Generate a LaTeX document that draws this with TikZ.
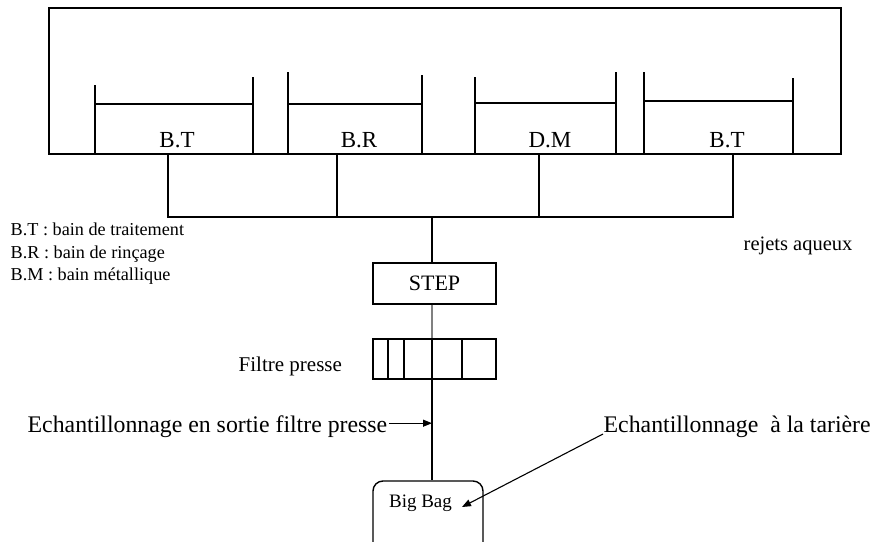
\documentclass[tikz,border=0pt]{standalone}
\usepackage{fontspec}
\setmainfont{Liberation Serif}
\usetikzlibrary{arrows.meta}
\begin{document}
\begin{tikzpicture}[x=1pt,y=-1pt,line width=1.4pt,
  txt/.style={inner sep=0pt},
  tanklbl/.style={txt,anchor=base,font=\fontsize{23}{26}\selectfont},
  legend/.style={txt,anchor=base west,font=\fontsize{18.2}{21}\selectfont},
  sample/.style={txt,anchor=base west,font=\fontsize{23.8}{27}\selectfont},
  box/.style={draw,inner sep=0pt},
  arr/.style={-{Triangle[length=9pt,width=7pt]},line width=1.1pt}]
\useasboundingbox (0,0) rectangle (873,541);
\clip (0,0) rectangle (873,541);

% workshop outline
\draw (49,8) rectangle (841,154);

% baths: two walls and the liquid level
\draw (95,85) -- (95,154)  (253,77) -- (253,154)  (95,104) -- (253,104);
\draw (288,72) -- (288,154) (422,75) -- (422,154) (288,104) -- (422,104);
\draw (475,77) -- (475,154) (616,72) -- (616,154) (475,103) -- (616,103);
\draw (644,72) -- (644,154) (793,78) -- (793,154) (644,101) -- (793,101);

\node[tanklbl] (bt1) at (177,147) {B.T};
\node[tanklbl] (br)  at (359,147) {B.R};
\node[tanklbl] (dm)  at (550,147) {D.M};
\node[tanklbl] (bt2) at (727,147) {B.T};

% collector of the rinsing water
\draw (168,154) -- (168,217) -- (733,217) -- (733,154);
\draw (337,154) -- (337,217);
\draw (539,154) -- (539,217);
\coordinate (junc) at (432,217);
\coordinate (mx) at (432,0);

% legend
\node[legend] (leg1) at (10,235) {B.T : bain de traitement};
\node[legend] (leg2) at (10,258) {B.R : bain de rinçage};
\node[legend] (leg3) at (10,280) {B.M : bain métallique};

\node[txt,anchor=base west,font=\fontsize{20.5}{24}\selectfont] (rej) at (743,250) {rejets aqueux};

% treatment line
\node[box,minimum width=123pt,minimum height=41pt,font=\fontsize{22}{25}\selectfont] (step) at (434.5,283.5) {STEP};
\node[box,minimum width=123pt,minimum height=40pt] (filt) at (434.5,359) {};
\draw (388,339) -- (388,379) (404,339) -- (404,379) (462,339) -- (462,379);
\node[txt,anchor=base west,font=\fontsize{21}{24}\selectfont] (filtlbl) at (238,371) {Filtre presse};

\node[draw,rounded corners=10pt,minimum width=110pt,minimum height=90pt,inner sep=0pt] (bigbag) at (428,526) {};
\node[txt,anchor=base,font=\fontsize{19}{22}\selectfont] (bbtxt) at (420.5,507) {Big Bag};
\coordinate (bbtip) at (462,507);

\draw (junc) -- (step.north -| mx);
\draw[gray] (step.south -| mx) -- (filt.north -| mx);
\draw (filt.north -| mx) -- (filt.south -| mx) -- (bigbag.north -| mx);

% sampling points
\node[sample] (ech1) at (27,432) {Echantillonnage en sortie filtre presse};
\node[sample] (ech2) at (603,432) {Echantillonnage\ \ à la tarière};
\draw[arr] ([xshift=1pt,yshift=3pt]ech1.east) -- ([yshift=3pt]ech1.east -| mx);
\draw[arr] ([yshift=-2pt]ech2.base west) -- (bbtip);
\end{tikzpicture}
\end{document}
